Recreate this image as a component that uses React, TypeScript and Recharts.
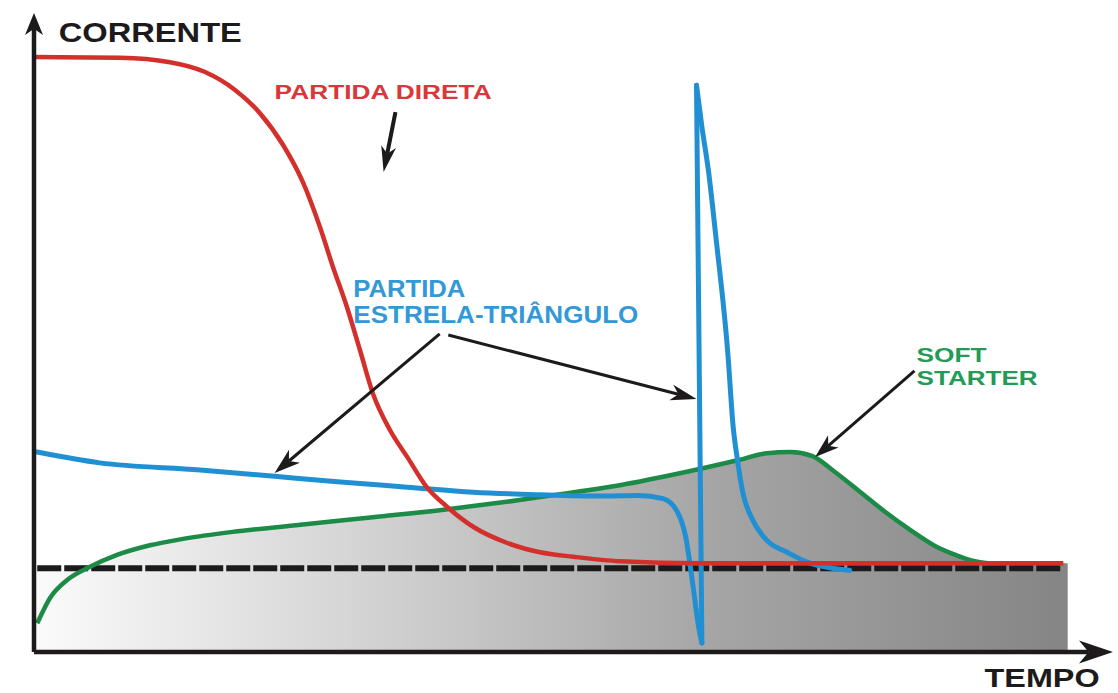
import React from 'react';
import { ComposedChart, Line, Area, XAxis, YAxis, ReferenceLine, ReferenceDot } from 'recharts';

// time (0-100) vs current (0-100)
const partidaDireta = [
  { t: 0.1, v: 93.1 }, { t: 8.0, v: 93.0 }, { t: 12.6, v: 92.3 }, { t: 15.8, v: 90.8 },
  { t: 18.6, v: 88.0 }, { t: 20.9, v: 84.4 }, { t: 23.1, v: 79.3 }, { t: 24.9, v: 73.6 },
  { t: 26.5, v: 66.5 }, { t: 27.7, v: 60.3 }, { t: 29.0, v: 54.0 }, { t: 30.2, v: 47.3 },
  { t: 31.4, v: 40.5 }, { t: 33.0, v: 34.7 }, { t: 34.6, v: 30.5 }, { t: 36.4, v: 25.8 },
  { t: 38.3, v: 22.7 }, { t: 40.7, v: 19.6 }, { t: 43.8, v: 17.1 }, { t: 46.9, v: 15.6 },
  { t: 50.0, v: 14.9 }, { t: 54.3, v: 14.2 }, { t: 61.7, v: 13.9 }, { t: 95.4, v: 13.9 },
];

const estrelaAntes = [
  { t: 0.3, v: 31.3 }, { t: 6.1, v: 29.6 }, { t: 15.4, v: 28.5 }, { t: 22.3, v: 27.5 },
  { t: 28.4, v: 26.6 }, { t: 34.6, v: 25.8 }, { t: 40.7, v: 25.0 }, { t: 46.9, v: 24.6 },
  { t: 52.5, v: 24.4 }, { t: 56.0, v: 24.5 }, { t: 58.3, v: 24.0 }, { t: 59.6, v: 22.0 },
  { t: 60.4, v: 18.0 }, { t: 61.0, v: 11.3 }, { t: 61.6, v: 3.9 }, { t: 61.9, v: 1.4 },
];

const estrelaPico = [
  { t: 61.9, v: 1.4 }, { t: 61.4, v: 88.7 },
];

const estrelaDepois = [
  { t: 61.4, v: 88.7 }, { t: 61.9, v: 82.2 }, { t: 62.5, v: 75.4 }, { t: 63.2, v: 64.9 },
  { t: 64.3, v: 46.8 }, { t: 64.8, v: 35.2 }, { t: 65.2, v: 30.0 }, { t: 65.7, v: 24.9 },
  { t: 66.6, v: 20.7 }, { t: 67.9, v: 17.5 }, { t: 69.8, v: 15.6 }, { t: 71.6, v: 14.1 },
  { t: 74.0, v: 13.1 }, { t: 75.6, v: 12.8 },
];

const softStarter = [
  { t: 0.3, v: 4.5 }, { t: 1.5, v: 8.5 }, { t: 3.1, v: 11.3 }, { t: 4.9, v: 13.1 },
  { t: 7.7, v: 15.2 }, { t: 10.75, v: 16.7 }, { t: 13.8, v: 17.7 }, { t: 18.4, v: 18.8 },
  { t: 24.7, v: 19.9 }, { t: 31.4, v: 21.1 }, { t: 37.6, v: 22.2 }, { t: 43.8, v: 23.5 },
  { t: 50.0, v: 25.0 }, { t: 54.3, v: 26.1 }, { t: 60.5, v: 28.2 }, { t: 65.2, v: 30.0 },
  { t: 67.9, v: 31.1 }, { t: 70.1, v: 31.3 }, { t: 72.1, v: 30.7 }, { t: 74.2, v: 28.2 },
  { t: 76.6, v: 25.0 }, { t: 78.9, v: 21.9 }, { t: 81.2, v: 19.1 }, { t: 83.5, v: 16.6 },
  { t: 85.4, v: 15.2 }, { t: 87.2, v: 14.2 }, { t: 88.4, v: 13.9 },
];

// shaded region (top edge) under the soft starter curve / nominal level
const areaShade = [
  { t: 0.0, v: 13.6 }, { t: 4.9, v: 13.6 },
  { t: 7.7, v: 15.2 }, { t: 10.75, v: 16.7 }, { t: 13.8, v: 17.7 }, { t: 18.4, v: 18.8 },
  { t: 24.7, v: 19.9 }, { t: 31.4, v: 21.1 }, { t: 37.6, v: 22.2 }, { t: 43.8, v: 23.5 },
  { t: 50.0, v: 25.0 }, { t: 54.3, v: 26.1 }, { t: 60.5, v: 28.2 }, { t: 65.2, v: 30.0 },
  { t: 67.9, v: 31.1 }, { t: 70.1, v: 31.3 }, { t: 72.1, v: 30.7 }, { t: 74.2, v: 28.2 },
  { t: 76.6, v: 25.0 }, { t: 78.9, v: 21.9 }, { t: 81.2, v: 19.1 }, { t: 83.5, v: 16.6 },
  { t: 85.4, v: 15.2 }, { t: 87.2, v: 14.2 }, { t: 88.4, v: 13.9 }, { t: 95.8, v: 13.9 },
];

const correnteNominal = [
  { t: 0.3, v: 13.1 }, { t: 95.3, v: 13.1 },
];

const FONT = '"Liberation Sans", Arial, Helvetica, sans-serif';

const arrow = (color: string, w: number, headLen: number, headW: number) => (props: any) => {
  const { x1, y1, x2, y2 } = props;
  const dx = x2 - x1;
  const dy = y2 - y1;
  const len = Math.hypot(dx, dy) || 1;
  const ux = dx / len;
  const uy = dy / len;
  const px = -uy;
  const py = ux;
  const bx = x2 - ux * headLen;
  const by = y2 - uy * headLen;
  const nx = x2 - ux * headLen * 0.72;
  const ny = y2 - uy * headLen * 0.72;
  const pts = `${x2},${y2} ${bx + (px * headW) / 2},${by + (py * headW) / 2} ${nx},${ny} ${bx - (px * headW) / 2},${by - (py * headW) / 2}`;
  return (
    <g>
      <line x1={x1} y1={y1} x2={nx} y2={ny} stroke={color} strokeWidth={w} />
      <polygon points={pts} fill={color} />
    </g>
  );
};

const label = (lines: string[], color: string, size: number, widths: number[], gap: number) => (props: any) => {
  const { cx, cy } = props;
  return (
    <g>
      {lines.map((s, i) => (
        <text
          key={i}
          x={cx}
          y={cy + i * gap}
          fill={color}
          fontFamily={FONT}
          fontWeight={700}
          fontSize={size}
          textLength={widths[i]}
          lengthAdjust="spacingAndGlyphs"
        >
          {s}
        </text>
      ))}
    </g>
  );
};

const RED = '#d3302c';
const BLUE = '#2190d2';
const GREEN = '#1b8b47';
const BLACK = '#1c1a1a';

export default function App() {
  return (
    <div style={{ position: 'absolute', left: 0, top: 0, width: 1118, height: 693, background: '#ffffff' }}>
      <ComposedChart width={1118} height={693} margin={{ top: 13, right: 5, bottom: 41, left: 34 }}>
        <defs>
          <linearGradient id="shade" x1="0" y1="0" x2="1" y2="0">
            <stop offset="0" stopColor="#fbfbfb" />
            <stop offset="0.3" stopColor="#d6d6d6" />
            <stop offset="0.65" stopColor="#a6a6a6" />
            <stop offset="1" stopColor="#858585" />
          </linearGradient>
        </defs>
        <XAxis type="number" dataKey="t" domain={[0, 100]} hide allowDataOverflow />
        <YAxis type="number" dataKey="v" domain={[0, 100]} hide allowDataOverflow />

        <Area data={areaShade} dataKey="v" type="monotone" stroke="none" fill="url(#shade)" fillOpacity={1} baseValue={0} isAnimationActive={false} />

        <Line data={correnteNominal} dataKey="v" type="linear" stroke={BLACK} strokeWidth={6} strokeDasharray="24 3" dot={false} isAnimationActive={false} />

        <Line data={softStarter} dataKey="v" type="monotone" stroke={GREEN} strokeWidth={4.5} dot={false} isAnimationActive={false} />
        <Line data={estrelaAntes} dataKey="v" type="monotone" stroke={BLUE} strokeWidth={5} dot={false} strokeLinecap="round" isAnimationActive={false} />
        <Line data={estrelaPico} dataKey="v" type="linear" stroke={BLUE} strokeWidth={5} dot={false} strokeLinecap="round" isAnimationActive={false} />
        <Line data={estrelaDepois} dataKey="v" type="monotone" stroke={BLUE} strokeWidth={5} dot={false} strokeLinecap="round" isAnimationActive={false} />
        <Line data={partidaDireta} dataKey="v" type="monotone" stroke={RED} strokeWidth={4.5} dot={false} isAnimationActive={false} />

        {/* axes with arrow heads */}
        <ReferenceLine segment={[{ x: 0, y: 0 }, { x: 0, y: 100 }]} ifOverflow="visible" shape={arrow(BLACK, 4.5, 22, 18)} />
        <ReferenceLine segment={[{ x: 0, y: 0 }, { x: 100, y: 0 }]} ifOverflow="visible" shape={arrow(BLACK, 4.5, 34, 23)} />

        {/* annotation arrows */}
        <ReferenceLine segment={[{ x: 33.5, y: 84.5 }, { x: 32.4, y: 75.1 }]} ifOverflow="visible" shape={arrow(BLACK, 4, 26, 15)} />
        <ReferenceLine segment={[{ x: 37.6, y: 49.8 }, { x: 22.3, y: 28.0 }]} ifOverflow="visible" shape={arrow(BLACK, 3, 26, 17)} />
        <ReferenceLine segment={[{ x: 38.4, y: 49.6 }, { x: 61.4, y: 39.6 }]} ifOverflow="visible" shape={arrow(BLACK, 3, 26, 16)} />
        <ReferenceLine segment={[{ x: 81.6, y: 44.0 }, { x: 72.4, y: 30.5 }]} ifOverflow="visible" shape={arrow(BLACK, 3, 24, 16)} />

        {/* texts */}
        <ReferenceDot x={2.3} y={95.5} r={0} ifOverflow="visible" shape={label(['CORRENTE'], BLACK, 28, [183], 0)} />
        <ReferenceDot x={88.1} y={-5.45} r={0} ifOverflow="visible" shape={label(['TEMPO'], BLACK, 26, [115], 0)} />
        <ReferenceDot x={22.3} y={86.5} r={0} ifOverflow="visible" shape={label(['PARTIDA DIRETA'], '#d8383a', 21, [217], 0)} />
        <ReferenceDot x={29.6} y={55.6} r={0} ifOverflow="visible" shape={label(['PARTIDA', 'ESTRELA-TRIÂNGULO'], '#3399d6', 23, [112, 285], 26)} />
        <ReferenceDot x={81.8} y={45.4} r={0} ifOverflow="visible" shape={label(['SOFT', 'STARTER'], '#239a55', 21, [70, 121], 23)} />
      </ComposedChart>
    </div>
  );
}
